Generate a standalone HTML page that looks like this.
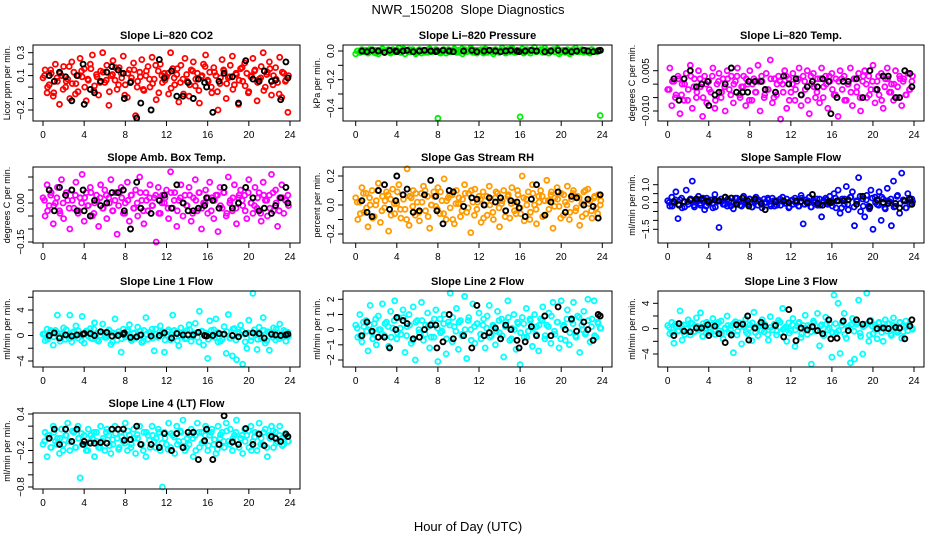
<!DOCTYPE html>
<html><head><meta charset="utf-8"><style>
body{margin:0;background:#fff}
svg{display:block;font-family:"Liberation Sans",sans-serif}
</style></head><body>
<svg id="c" width="936" height="540" viewBox="0 0 936 540">
<text x="468" y="14" text-anchor="middle" font-size="13" style="white-space:pre">NWR_150208  Slope Diagnostics</text>
<text x="468" y="531" text-anchor="middle" font-size="13">Hour of Day (UTC)</text>
</svg>
<script>
const hoursC=[0,0.2,0.4,0.6,0.8,1,1.2,1.4,1.6,1.8,2,2.2,2.4,2.6,2.8,3,3.2,3.4,3.6,3.8,4,4.2,4.4,4.6,4.8,5,5.2,5.4,5.6,5.8,6,6.2,6.4,6.6,6.8,7,7.2,7.4,7.6,7.8,8,8.2,8.4,8.6,8.8,9,9.2,9.4,9.6,9.8,10,10.2,10.4,10.6,10.8,11,11.2,11.4,11.6,11.8,12,12.2,12.4,12.6,12.8,13,13.2,13.4,13.6,13.8,14,14.2,14.4,14.6,14.8,15,15.2,15.4,15.6,15.8,16,16.2,16.4,16.6,16.8,17,17.2,17.4,17.6,17.8,18,18.2,18.4,18.6,18.8,19,19.2,19.4,19.6,19.8,20,20.2,20.4,20.6,20.8,21,21.2,21.4,21.6,21.8,22,22.2,22.4,22.6,22.8,23,23.2,23.4,23.6,23.8];
const hoursD=[0.15,0.45,0.75,1.05,1.35,1.65,1.95,2.25,2.55,2.85,3.15,3.45,3.75,4.05,4.35,4.65,4.95,5.25,5.55,5.85,6.15,6.45,6.75,7.05,7.35,7.65,7.95,8.25,8.55,8.85,9.15,9.45,9.75,10.05,10.35,10.65,10.95,11.25,11.55,11.85,12.15,12.45,12.75,13.05,13.35,13.65,13.95,14.25,14.55,14.85,15.15,15.45,15.75,16.05,16.35,16.65,16.95,17.25,17.55,17.85,18.15,18.45,18.75,19.05,19.35,19.65,19.95,20.25,20.55,20.85,21.15,21.45,21.75,22.05,22.35,22.65,22.95,23.25,23.55,23.85];
const hoursK=[0.6,1.1,1.6,2.2,2.8,3.3,3.9,4.0,4.6,5.0,5.6,6.2,6.7,7.3,7.8,7.9,8.5,9.1,9.5,10.5,11.3,11.8,12.5,13,13.6,14.1,14.6,15.1,15.7,15.9,16.5,17.1,17.6,18.4,19,19.7,20.4,21.0,21.5,22.2,22.6,23.1,23.6,23.8];
const xTicks=[0,4,8,12,16,20,24];

const co2Vals=[0.08,0.15,-0.05,0.02,0.12,-0.08,0.2,0.05,-0.15,0.1,0.18,0.0,0.07,-0.1,0.22,0.13,0.03,-0.04,0.25,0.09,
0.16,-0.12,0.06,0.2,0.28,0.01,0.11,-0.07,0.14,0.3,0.04,0.19,-0.16,0.1,0.23,0.06,-0.02,0.17,0.12,0.27,
0.02,-0.09,0.15,0.08,0.21,-0.25,0.05,0.13,0.24,-0.03,0.1,0.18,0.0,0.26,0.07,-0.11,0.14,0.2,0.04,0.12,
0.09,-0.06,0.3,0.16,0.02,0.11,-0.13,0.19,0.07,0.25,0.05,-0.08,0.15,0.22,0.01,0.12,-0.14,0.09,0.2,0.28,
0.06,0.13,-0.05,0.17,0.1,-0.2,0.03,0.24,0.14,-0.1,0.08,0.19,0.27,0.02,0.11,-0.15,0.16,0.05,0.21,0.12,
-0.04,0.09,0.25,0.15,-0.12,0.07,0.18,0.3,0.0,0.13,0.22,-0.07,0.1,0.17,0.04,0.26,-0.09,0.12,0.06,-0.22];
const co2Core=[0.1,0.0,0.15,-0.05,0.08,0.12,-0.02,0.05,0.18,0.03,-0.06,0.1,0.14,0.0,0.07,0.16,-0.03,0.09,0.04,0.13,
0.06,-0.04,0.11,0.17,0.02,0.08,-0.07,0.12,0.05,0.15,0.0,0.09,-0.02,0.14,0.07,0.03,0.19,-0.05,0.1,0.06,
0.12,-0.01,0.08,0.16,0.04,-0.06,0.11,0.02,0.14,0.07,-0.03,0.1,0.18,0.05,0.0,0.13,-0.04,0.08,0.15,0.03,
0.09,-0.02,0.12,0.06,0.17,0.01,-0.05,0.1,0.14,0.04,0.08,-0.03,0.11,0.16,0.02,0.07,-0.06,0.13,0.05,0.1];
const co2Black=[0.1,0.05,0.13,0.09,-0.12,0.1,0.2,-0.15,-0.02,-0.05,0.05,0.13,0.18,0.15,0.12,-0.1,0.04,-0.27,-0.14,-0.2,0.24,0.08,0.14,-0.08,-0.08,0.04,-0.1,0.07,0.04,0.0,-0.22,0.05,0.12,0.09,-0.14,0.23,0.07,0.05,0.14,0.05,0.06,-0.11,0.22,0.08];

const presVals=[-0.02,0.0,-0.01,0.01,-0.005,0.005,-0.015,0.0,0.01,-0.01,
0.005,-0.02,0.0,0.015,-0.01,0.0,0.005,-0.015,0.01,-0.005,
0.0,0.02,-0.01,0.005,-0.02,0.0,0.01,-0.005,0.005,-0.01,
0.0,0.01,-0.015,0.005,0.0,-0.01,0.015,-0.005,0.0,0.01,
-0.47,0.0,-0.01,0.005,-0.015,0.01,0.0,-0.005,0.015,-0.01,
0.005,0.0,-0.02,0.01,-0.005,0.0,0.02,-0.01,0.005,-0.015,
0.0,0.01,-0.005,0.015,-0.01,0.0,0.005,-0.02,0.01,0.0,
-0.01,0.005,0.0,-0.015,0.01,-0.005,0.02,0.0,-0.01,0.005,
-0.46,0.015,-0.01,0.0,0.005,-0.015,0.01,0.025,-0.005,0.0,
0.01,-0.01,0.02,0.005,-0.015,0.0,0.01,-0.005,0.015,-0.02,
0.0,0.005,-0.01,0.01,0.0,-0.015,0.005,0.02,-0.005,0.0,
0.01,-0.01,0.005,0.0,-0.015,0.01,0.0,-0.005,0.005,-0.45];
const presCore=[0.0,-0.01,0.005,-0.005,0.01,0.0,-0.015,0.005,0.0,-0.01,0.01,-0.005,0.0,0.005,-0.01,0.015,0.0,-0.005,0.01,-0.02,
0.005,0.0,-0.01,0.01,-0.005,0.0,0.005,-0.015,0.01,0.0,-0.005,0.005,0.0,-0.01,0.015,-0.005,0.0,0.01,-0.01,0.005,
0.0,-0.015,0.01,0.0,-0.005,0.005,-0.01,0.02,0.0,-0.005,0.01,-0.01,0.005,0.0,-0.015,0.01,0.0,0.005,-0.005,0.0,
0.01,-0.01,0.0,0.005,-0.005,0.015,-0.01,0.0,0.005,-0.02,0.01,0.0,-0.005,0.005,0.0,-0.01,0.01,-0.005,0.0,0.005];
const presBlack=[0.0,-0.005,0.005,0.0,-0.01,0.005,0.0,-0.005,0.0,0.005,-0.005,0.0,0.005,0.0,-0.005,0.0,0.005,0.0,-0.005,0.0,0.005,-0.005,0.0,0.005,0.0,-0.005,0.0,0.005,0.0,-0.005,0.0,0.005,0.0,-0.005,0.0,0.005,0.0,-0.005,0.0,0.005,0.0,-0.005,0.0,0.005];

const tempVals=[-0.002,0.006,-0.008,0.001,-0.004,0.003,-0.011,0.0,-0.006,0.004,-0.002,0.007,-0.009,0.002,-0.005,0.005,-0.001,-0.012,0.003,-0.007,
0.001,-0.003,0.006,-0.009,0.0,0.004,-0.005,0.002,-0.01,0.005,-0.002,0.003,-0.007,0.001,0.006,-0.004,-0.001,0.003,-0.008,0.0,
0.005,-0.006,0.002,-0.003,0.007,-0.01,0.001,-0.005,0.004,-0.002,0.009,-0.007,0.002,-0.004,0.003,-0.013,0.0,0.005,-0.009,0.002,
-0.003,0.004,-0.006,0.001,0.006,-0.008,0.003,-0.002,0.005,-0.011,0.0,0.004,-0.005,0.002,-0.007,0.006,-0.001,0.003,-0.009,0.001,
0.004,-0.004,0.002,-0.012,0.005,-0.002,0.003,-0.006,0.0,0.006,-0.008,0.002,-0.003,0.004,-0.01,0.001,0.005,-0.005,0.003,-0.002,
0.007,-0.007,0.001,-0.004,0.004,-0.009,0.002,0.006,-0.003,0.0,-0.006,0.005,-0.001,0.003,-0.008,0.002,-0.004,0.004,-0.002,0.001];
const tempCore=[-0.002,0.001,-0.005,0.002,-0.004,0.0,-0.006,0.003,-0.001,-0.003,0.002,-0.005,0.0,-0.002,0.003,-0.006,0.001,-0.003,-0.001,0.002,
-0.004,0.0,0.003,-0.005,-0.001,0.002,-0.006,0.0,-0.003,0.001,0.003,-0.004,-0.002,0.002,-0.005,0.0,0.001,-0.003,0.003,-0.006,
0.0,-0.002,0.002,-0.004,0.001,-0.006,0.003,-0.001,-0.003,0.002,-0.005,0.0,0.003,-0.002,-0.004,0.001,0.002,-0.006,0.0,-0.003,
0.002,-0.001,-0.005,0.003,0.0,-0.004,0.001,-0.002,0.003,-0.006,-0.001,0.002,-0.003,0.0,-0.005,0.002,0.001,-0.004,-0.002,0.003];
const tempBlack=[0.002,-0.006,0.002,0.005,-0.001,0.0,0.001,-0.008,-0.004,-0.003,0.0,0.006,-0.003,-0.003,-0.003,0.001,0.001,0.001,-0.002,-0.003,0.003,0.0,0.002,-0.004,-0.001,0.001,-0.001,0.002,0.001,-0.011,-0.005,0.001,0.001,0.002,-0.005,0.005,-0.002,0.003,0.003,-0.005,-0.005,0.005,0.004,-0.001];

const ambVals=[0.02,-0.05,0.07,-0.01,0.04,-0.08,0.0,0.06,-0.03,0.09,-0.06,0.03,0.01,-0.1,0.05,-0.02,0.08,-0.04,0.02,0.11,
-0.07,0.04,-0.01,0.06,-0.05,0.0,0.03,-0.09,0.07,-0.02,0.05,-0.06,0.02,0.09,-0.03,0.01,-0.12,0.04,0.06,-0.04,
0.0,0.08,-0.07,0.03,-0.02,0.05,-0.05,0.1,0.01,-0.08,0.04,-0.03,0.07,-0.01,0.02,-0.15,0.06,-0.04,0.03,0.0,
0.05,-0.06,0.12,-0.02,0.04,-0.09,0.01,0.07,-0.05,0.03,-0.01,0.06,-0.07,0.02,0.09,-0.03,0.04,-0.1,0.0,0.05,
-0.04,0.08,0.02,-0.06,0.03,-0.11,0.06,-0.02,0.04,-0.05,0.1,0.01,-0.03,0.07,-0.08,0.02,0.05,-0.01,0.03,-0.06,
0.09,0.0,-0.04,0.06,-0.02,0.04,-0.07,0.08,0.01,-0.05,0.03,0.11,-0.03,0.05,-0.09,0.02,0.07,-0.04,0.01,0.03];
const ambCore=[0.01,-0.03,0.03,-0.01,0.02,-0.04,0.0,0.04,-0.02,0.01,0.03,-0.03,0.0,0.02,-0.01,0.04,-0.04,0.01,0.02,-0.02,
0.03,0.0,-0.03,0.04,-0.01,0.02,-0.04,0.01,0.03,-0.02,0.0,0.04,-0.03,0.01,0.02,-0.01,0.03,-0.04,0.0,0.02,
-0.02,0.04,0.01,-0.03,0.02,0.0,-0.01,0.03,-0.04,0.01,0.04,-0.02,0.0,0.02,-0.03,0.01,0.03,-0.01,0.04,-0.04,
0.0,0.02,-0.02,0.03,0.01,-0.03,0.04,0.0,-0.01,0.02,-0.04,0.03,0.01,-0.02,0.04,0.0,-0.03,0.02,0.01,-0.01];
const ambBlack=[0.05,-0.03,0.06,0.03,0.05,-0.03,0.05,-0.03,-0.05,0.01,-0.01,0.0,0.04,0.04,0.05,-0.03,-0.1,0.08,-0.02,-0.04,0.01,0.03,-0.02,0.07,0.0,-0.03,-0.03,-0.02,-0.01,0.02,0.01,-0.02,0.06,-0.02,0.0,0.06,0.02,-0.03,-0.02,-0.04,-0.01,0.02,0.06,0.0];

const rhVals=[0.05,-0.1,0.02,0.12,-0.05,0.08,-0.15,0.0,0.1,-0.08,0.03,0.15,-0.12,0.06,-0.02,0.09,-0.18,0.04,0.11,-0.06,
0.01,0.14,-0.09,0.07,-0.03,0.25,-0.14,0.05,0.1,-0.07,0.02,-0.11,0.08,0.13,-0.04,0.06,-0.16,0.0,0.09,-0.01,
0.12,-0.06,0.03,0.18,-0.1,0.05,-0.02,0.07,-0.13,0.1,0.01,-0.08,0.04,0.14,-0.05,0.08,-0.19,0.02,0.11,-0.03,
0.06,-0.12,0.09,0.0,-0.07,0.13,0.03,-0.1,0.05,0.08,-0.15,0.01,0.1,-0.04,0.06,-0.09,0.12,0.02,-0.06,0.07,
-0.02,0.2,-0.11,0.04,0.09,-0.05,0.14,0.0,-0.13,0.06,0.1,-0.08,0.03,0.17,-0.03,0.07,-0.16,0.05,0.12,-0.01,
0.08,-0.07,0.02,0.13,-0.1,0.04,0.1,-0.04,0.06,-0.14,0.01,0.09,-0.06,0.11,0.03,-0.09,0.05,-0.02,0.07,0.0];
const rhCore=[0.02,-0.06,0.08,-0.02,0.05,-0.09,0.0,0.1,-0.04,0.03,0.07,-0.07,0.01,0.09,-0.03,0.04,-0.1,0.06,-0.01,0.08,
-0.05,0.02,0.1,-0.08,0.0,0.06,-0.03,0.09,-0.06,0.03,0.07,-0.1,0.01,0.05,-0.04,0.08,-0.02,0.1,-0.07,0.02,
0.04,-0.09,0.06,0.0,-0.05,0.09,-0.02,0.03,-0.08,0.07,0.01,-0.04,0.1,-0.06,0.05,0.0,-0.1,0.08,-0.03,0.02,
0.06,-0.07,0.03,0.09,-0.01,0.04,-0.09,0.07,0.0,-0.05,0.08,-0.02,0.05,-0.08,0.1,0.01,-0.04,0.06,-0.06,0.03];
const rhBlack=[0.03,-0.05,-0.08,0.1,0.14,-0.03,0.03,0.2,0.07,0.11,-0.05,-0.04,0.07,0.17,0.06,-0.04,-0.13,0.1,0.09,-0.01,0.05,0.04,0.0,0.05,0.02,0.05,-0.04,0.03,0.02,-0.02,-0.08,0.04,0.14,-0.07,0.02,0.09,-0.05,0.06,0.05,0.0,0.04,-0.01,-0.09,0.07];

const sampVals=[0.1,-0.2,0.3,-0.05,0.6,-0.9,0.15,-0.3,0.05,0.7,-0.1,0.2,1.2,-0.25,0.0,0.35,-0.15,0.1,-0.4,0.25,
-0.05,0.15,-0.3,0.45,0.05,-1.4,0.2,-0.1,0.3,-0.2,0.1,0.0,-0.35,0.25,-0.05,0.15,-0.2,0.35,0.05,-0.1,
0.2,-0.25,0.1,0.3,-0.15,0.05,-0.3,0.2,0.0,0.15,-0.1,0.25,-0.2,0.1,0.05,-0.15,0.3,-0.05,0.2,-0.3,
0.1,-0.1,0.25,0.0,-0.2,0.4,-1.2,0.15,-0.05,0.3,-0.25,0.1,0.05,-0.15,0.2,-0.8,0.1,0.25,-0.1,0.35,
0.0,0.5,-0.3,0.7,-0.6,0.2,-0.1,0.9,-0.4,0.3,0.6,-1.3,0.1,1.4,-0.5,0.2,-0.8,0.4,-0.2,0.7,
-1.5,0.3,-0.1,0.6,-1.0,0.2,-0.35,0.8,0.05,-1.3,1.2,-0.2,0.4,-0.6,1.65,0.1,-0.3,0.5,-0.1,0.2];
const sampCore=[0.0,-0.2,0.15,-0.1,0.25,-0.25,0.05,0.2,-0.15,0.1,-0.05,0.25,-0.2,0.0,0.15,-0.25,0.1,0.05,-0.1,0.2,
-0.2,0.0,0.25,-0.15,0.1,-0.05,0.2,-0.25,0.05,0.15,-0.1,0.0,0.25,-0.2,0.1,-0.15,0.2,0.05,-0.05,-0.25,
0.15,0.0,-0.2,0.25,-0.1,0.1,-0.25,0.05,0.2,-0.15,0.0,0.15,-0.05,-0.2,0.25,0.1,-0.3,0.2,-0.1,0.3,
-0.25,0.05,0.35,-0.2,0.15,-0.35,0.25,0.0,-0.15,0.3,-0.3,0.1,0.2,-0.25,0.35,-0.05,0.15,-0.3,0.25,0.05];
const sampBlack=[0.05,-0.15,0.05,0.15,0.2,0.2,0.1,0.05,0.15,0.1,0.3,0.25,-0.1,0.25,0.1,-0.2,0.2,-0.05,-0.4,0.05,0.1,0.0,0.1,0.05,0.0,0.45,-0.05,-0.15,0.05,0.0,0.1,0.1,0.15,-0.1,0.35,-0.25,0.15,0.0,-0.05,-0.05,-0.3,0.1,0.2,-0.1];

const l1Vals=[0.2,-0.8,1.0,-0.3,0.5,-1.5,0.8,3.2,-0.2,0.3,1.2,-0.6,0.0,3.2,-1.0,0.6,1.5,-0.4,0.2,3.0,
-1.2,0.7,-0.1,1.1,-0.5,2.0,0.3,-0.9,0.5,1.8,-0.3,0.1,0.9,-1.4,0.4,2.6,-0.7,0.2,-2.6,1.0,
-0.2,0.6,1.7,-0.8,0.3,-0.4,1.3,0.0,-1.1,0.8,2.8,-0.6,0.4,1.0,-2.4,0.2,-0.3,1.5,0.6,-2.6,
0.1,0.9,-0.7,3.2,-0.2,0.5,-1.6,1.2,0.3,-0.5,0.8,1.7,-0.9,0.2,1.9,-0.3,3.8,0.6,-1.5,0.4,
-3.6,2.3,-0.2,0.9,2.6,-1.0,0.3,-0.6,1.4,-2.8,3.3,-0.4,-3.2,1.1,-3.8,0.5,1.6,-4.5,0.2,-2.0,
2.4,-0.8,6.6,0.3,-2.2,1.3,-0.5,2.8,-1.2,0.6,-2.3,0.1,1.2,-0.7,0.4,1.8,-0.3,0.8,-0.9,0.5];
const l1Core=[0.3,-0.6,0.8,-0.2,0.5,-0.9,0.1,0.9,-0.5,0.4,-0.1,0.7,-0.8,0.2,0.6,-0.4,1.0,-0.7,0.0,0.5,
-0.3,0.8,-1.0,0.3,0.6,-0.5,0.1,0.9,-0.6,0.4,-0.2,0.7,-0.9,0.2,0.5,-0.4,1.0,-0.1,0.3,-0.7,
0.6,-0.3,0.8,-0.8,0.0,0.5,-0.5,0.9,-0.2,0.4,-1.0,0.7,0.1,-0.6,0.8,-0.3,0.5,-0.9,0.2,0.6,
-0.4,1.0,-0.7,0.3,0.7,-1.0,0.4,-0.2,0.9,-0.6,0.1,0.8,-0.8,0.5,-0.3,1.0,-0.5,0.3,0.6,-0.1];
const l1Black=[0.0,0.4,-0.4,0.1,-0.1,0.1,0.2,0.3,0.3,0.0,0.6,0.5,-0.1,0.0,0.2,0.4,-0.3,-0.2,0.1,-0.1,0.0,0.4,-0.4,0.3,0.1,0.1,0.1,0.5,0.0,-0.1,0.0,0.3,0.2,0.0,-0.2,0.3,0.4,0.3,-0.4,0.2,0.1,0.0,0.1,0.2];

const l2Vals=[0.3,-0.5,1.0,-0.8,0.2,0.6,-1.4,1.6,-0.2,0.4,-1.0,0.9,0.0,1.7,-0.4,0.5,-1.1,1.2,0.1,1.9,
-0.6,0.8,-0.3,1.3,-1.5,0.2,1.0,-0.9,1.5,-2.0,0.6,-0.2,1.8,-0.7,0.3,1.1,-1.2,0.4,-0.5,1.3,
-2.1,0.7,-0.1,1.0,-1.6,0.5,2.4,-0.8,0.2,1.4,-1.3,0.6,-0.3,2.2,-1.9,0.8,0.0,1.7,-0.9,0.4,
1.1,-0.6,0.3,-1.2,0.9,1.6,-0.4,0.2,-1.0,1.2,-0.2,0.7,-1.8,0.5,1.9,-0.7,0.1,1.0,-1.3,0.4,
-2.3,0.8,-0.5,1.4,-0.1,0.6,-1.1,1.0,0.2,-1.4,0.7,1.5,-0.6,0.3,1.1,-0.9,1.8,-0.3,0.5,-1.2,
1.9,0.2,-0.7,1.3,-1.0,0.6,1.8,-0.4,0.9,-1.5,0.3,1.2,-0.2,2.0,-0.8,0.7,1.9,-0.5,0.4,0.1];
const l2Core=[0.1,-0.4,0.5,-0.1,0.3,-0.6,0.7,0.0,-0.3,0.4,0.2,-0.5,0.6,-0.2,0.1,0.8,-0.4,0.3,-0.7,0.5,
0.0,0.6,-0.3,0.2,-0.5,0.7,0.1,-0.2,0.4,-0.6,0.3,0.8,-0.1,0.5,-0.4,0.0,0.6,-0.7,0.2,0.4,
-0.3,0.7,0.1,-0.5,0.3,-0.1,0.6,-0.4,0.2,0.8,-0.6,0.0,0.5,-0.2,0.4,-0.5,0.7,0.1,-0.3,0.3,
0.6,-0.4,0.2,0.9,-0.1,0.5,-0.6,0.3,0.7,-0.2,0.4,-0.5,0.8,0.0,-0.3,0.6,0.2,-0.4,0.5,0.1];
const l2Black=[-0.4,0.5,-0.1,-0.5,-0.5,-1.2,0.0,0.8,0.6,0.4,-0.6,-0.5,0.0,0.3,0.3,-1.2,-0.8,1.0,-0.6,-0.4,-1.2,1.6,-0.4,-0.2,0.1,-0.6,0.3,0.0,-0.7,-1.2,-0.8,0.2,-0.4,0.9,-0.4,1.5,0.0,0.7,-0.1,0.5,0.0,-0.7,1.0,0.9];

const l3Vals=[0.5,-0.8,1.0,-2.3,0.3,-0.4,2.8,-1.8,0.6,0.0,1.4,-1.0,0.8,-0.5,1.7,-0.2,2.5,-1.2,0.4,1.0,
-0.6,0.2,1.6,-0.9,0.7,-0.3,1.2,-1.6,0.1,2.0,-0.7,0.5,-3.8,1.1,-0.4,0.9,-2.4,0.3,1.5,-0.8,
0.6,-1.9,2.6,0.0,-1.1,0.8,1.4,-0.5,0.2,-1.8,1.9,-0.2,0.7,-1.0,1.3,-0.6,3.2,0.1,-2.0,0.9,
-0.3,1.6,-2.8,0.4,1.0,-1.4,0.5,2.1,-0.9,0.2,-5.6,1.2,-0.4,2.4,-2.7,0.6,-1.1,1.8,-0.2,0.8,
-4.5,5.3,-0.6,4.0,-3.9,1.0,2.4,-1.5,0.3,-5.4,1.6,-4.8,0.7,4.5,-1.2,-4.0,0.5,5.6,-2.0,1.3,
-0.8,0.6,-1.6,1.0,0.2,-2.0,1.4,-0.4,0.8,-1.1,1.7,0.0,-0.6,1.0,-1.5,0.4,1.2,-0.3,0.6,0.1];
const l3Core=[0.2,-0.6,0.7,-0.3,0.5,-0.9,0.1,0.9,-0.5,0.4,-0.1,0.8,-0.7,0.2,0.6,-0.4,1.0,-0.8,0.0,0.5,
-0.2,0.8,-1.0,0.3,0.6,-0.5,0.1,0.9,-0.6,0.4,-0.3,0.7,-0.9,0.2,0.5,-0.4,1.0,-0.1,0.3,-0.7,
0.6,-0.2,0.8,-0.8,0.0,0.5,-0.5,0.9,-0.3,0.4,-1.0,0.7,0.1,-0.6,0.8,-0.3,0.5,-0.9,0.2,0.6,
-0.4,1.0,-0.7,0.3,0.7,-1.0,0.4,-0.2,0.9,-0.6,0.1,0.8,-0.8,0.5,-0.3,1.0,-0.5,0.3,0.6,-0.1];
const l3Black=[-1.1,0.8,-0.4,-0.5,0.1,0.1,0.6,-1.1,0.4,-0.8,-2.2,-1.0,0.6,0.7,2.0,-1.8,0.1,1.0,0.4,0.5,-1.3,3.0,-1.9,0.1,-0.2,0.3,-0.3,-0.8,1.4,-1.6,-1.5,1.2,-0.3,1.4,0.7,1.2,0.0,0.1,0.0,0.2,0.1,-1.6,0.4,1.4];

const l4Vals=[-0.1,0.1,-0.3,0.05,-0.15,0.2,-0.05,0.0,-0.25,0.15,-0.1,0.05,0.25,-0.2,-0.05,0.1,-0.15,0.2,-0.65,-0.1,
0.05,-0.2,0.15,-0.05,0.0,-0.3,0.1,-0.15,0.2,-0.05,-0.2,0.15,0.05,-0.25,-0.1,0.2,0.0,-0.15,0.1,-0.05,
0.25,-0.2,0.05,-0.1,0.15,-0.25,0.0,0.2,-0.1,0.1,-0.3,0.05,-0.15,0.2,-0.05,0.0,0.15,-0.2,-0.8,0.1,
-0.1,0.25,-0.15,0.05,-0.25,0.2,-0.05,0.1,0.3,-0.2,0.0,-0.1,0.15,-0.3,0.05,0.25,-0.15,0.1,-0.05,0.2,
-0.2,0.05,0.15,-0.1,-0.25,0.2,0.0,0.1,-0.15,0.25,-0.05,0.15,-0.2,0.05,0.3,-0.1,0.0,-0.25,0.15,0.05,
-0.15,0.2,-0.05,0.1,-0.2,0.25,0.0,-0.1,0.15,-0.3,0.05,0.2,-0.15,0.1,-0.05,0.2,0.0,-0.1,0.05,-0.05];
const l4Core=[-0.05,0.05,-0.15,0.1,-0.1,0.0,-0.2,0.05,-0.05,0.12,-0.15,0.0,0.08,-0.1,-0.2,0.05,0.1,-0.05,-0.15,0.0,
0.1,-0.12,-0.02,0.08,-0.18,0.03,-0.08,0.12,-0.15,0.0,0.06,-0.1,-0.2,0.1,-0.03,0.05,-0.15,0.1,-0.08,0.0,
-0.18,0.08,0.02,-0.1,0.12,-0.05,-0.15,0.05,0.0,-0.2,0.1,-0.08,0.05,-0.12,0.1,-0.02,-0.18,0.06,-0.05,0.12,
-0.1,0.0,0.1,-0.15,0.05,-0.05,0.12,-0.2,0.02,0.08,-0.1,0.1,-0.15,0.0,0.12,-0.08,0.05,-0.12,0.08,-0.05];
const l4Black=[0.0,0.15,-0.1,0.15,-0.05,0.15,-0.1,-0.05,-0.08,-0.08,-0.07,-0.08,0.15,0.15,0.15,-0.03,-0.02,0.2,-0.1,-0.1,-0.15,0.08,-0.2,0.08,-0.15,0.1,0.1,-0.35,-0.04,0.15,-0.35,-0.1,0.37,-0.06,-0.1,0.16,-0.1,0.07,-0.12,0.03,0.0,-0.05,0.07,0.03];

const COLS=[{l:33,r:300,x0:43,x24:290},{l:343,r:612,x0:355.7,x24:602.3},{l:658,r:924,x0:667.7,x24:914}];
const ROWS=[{t:45,b:121},{t:167,b:243},{t:291,b:367},{t:413,b:489}];
const panels=[
 {name:'co2',title:'Slope Li\u2013820 CO2',ylab:'Licor ppm per min.',c:0,r:0,col:'#ff0000',vals:co2Vals,core:co2Core,black:co2Black,a:[0.3,52.7],b:[-0.2,110],ticks:[-0.2,-0.1,0,0.1,0.2,0.3],labs:['0.3','0.1','\u22120.2'],labv:[0.3,0.1,-0.2]},
 {name:'pressure',title:'Slope Li\u2013820 Pressure',ylab:'kPa per min.',c:1,r:0,col:'#00ee00',vals:presVals,core:presCore,black:presBlack,a:[0,51],b:[-0.4,108.3],ticks:[0,-0.1,-0.2,-0.3,-0.4],labs:['0.0','\u22120.2','\u22120.4'],labv:[0,-0.2,-0.4]},
 {name:'li820-temp',title:'Slope Li\u2013820 Temp.',ylab:'degrees C per min.',c:2,r:0,col:'#ff00ff',vals:tempVals,core:tempCore,black:tempBlack,a:[0.005,70.7],b:[-0.01,111],ticks:[0.005,0,-0.005,-0.01],labs:['0.005','\u22120.010'],labv:[0.005,-0.01]},
 {name:'amb-box-temp',title:'Slope Amb. Box Temp.',ylab:'degrees C per min.',c:0,r:1,col:'#ff00ff',vals:ambVals,core:ambCore,black:ambBlack,a:[0,203],b:[-0.15,242],ticks:[0.1,0.05,0,-0.05,-0.1,-0.15],labs:['0.00','\u22120.15'],labv:[0,-0.15]},
 {name:'gas-stream-rh',title:'Slope Gas Stream RH',ylab:'percent per min.',c:1,r:1,col:'#ff9a00',vals:rhVals,core:rhCore,black:rhBlack,a:[0.2,176],b:[-0.2,234],ticks:[0.2,0.1,0,-0.1,-0.2],labs:['0.2','0.0','\u22120.2'],labv:[0.2,0,-0.2]},
 {name:'sample-flow',title:'Slope Sample Flow',ylab:'ml/min per min.',c:2,r:1,col:'#0000ff',vals:sampVals,core:sampCore,black:sampBlack,a:[1.0,184.7],b:[-1.5,229.3],ticks:[1,0.5,0,-0.5,-1,-1.5],labs:['1.0','0.0','\u22121.5'],labv:[1,0,-1.5]},
 {name:'line1-flow',title:'Slope Line 1 Flow',ylab:'ml/min per min.',c:0,r:2,col:'#00ffff',vals:l1Vals,core:l1Core,black:l1Black,a:[4,310],b:[-4,361],ticks:[6,4,2,0,-2,-4],labs:['4','0','\u22124'],labv:[4,0,-4]},
 {name:'line2-flow',title:'Slope Line 2 Flow',ylab:'ml/min per min.',c:1,r:2,col:'#00ffff',vals:l2Vals,core:l2Core,black:l2Black,a:[2,299.3],b:[-2,360],ticks:[2,1,0,-1,-2],labs:['2','1','0','\u22121','\u22122'],labv:[2,1,0,-1,-2]},
 {name:'line3-flow',title:'Slope Line 3 Flow',ylab:'ml/min per min.',c:2,r:2,col:'#00ffff',vals:l3Vals,core:l3Core,black:l3Black,a:[4,303.3],b:[-4,354],ticks:[4,2,0,-2,-4],labs:['4','0','\u22124'],labv:[4,0,-4]},
 {name:'line4-flow',title:'Slope Line 4 (LT) Flow',ylab:'ml/min per min.',c:0,r:3,col:'#00ffff',vals:l4Vals,core:l4Core,black:l4Black,a:[0.4,414],b:[-0.8,487],ticks:[0.4,0.2,0,-0.2,-0.4,-0.6,-0.8],labs:['0.4','\u22120.2','\u22120.8'],labv:[0.4,-0.2,-0.8]}
];
const NS='http://www.w3.org/2000/svg';
const svg=document.getElementById('c');
function mk(tag,attrs,parent){const e=document.createElementNS(NS,tag);for(const k in attrs)e.setAttribute(k,attrs[k]);parent.appendChild(e);return e;}
panels.forEach(p=>{
 const C=COLS[p.c],R=ROWS[p.r];
 const xs=h=>C.x0+h*(C.x24-C.x0)/24;
 const ys=v=>p.a[1]+(v-p.a[0])*(p.b[1]-p.a[1])/(p.b[0]-p.a[0]);
 const g=mk('g',{},svg);
 
 
 const t=mk('text',{x:(C.l+C.r)/2,y:R.t-6,'text-anchor':'middle','font-size':11,'font-weight':'bold'},g);
 t.textContent=p.title;
 
 
 const pts=mk('g',{},g);
 function dot(h,v,color,sw,nm){
  const cy=ys(v);if(cy<R.t-2||cy>R.b+2)return;
  const pt=mk('circle',{cx:xs(h).toFixed(1),cy:cy.toFixed(1),r:2.5,fill:'none',stroke:color,'stroke-width':sw},pts);
  
  
 }
 p.core.forEach((v,i)=>{if(i<hoursD.length)dot(hoursD[i],v,p.col,1.8,p.name+'-point');});
 p.vals.forEach((v,i)=>{if(i<hoursC.length)dot(hoursC[i],v,p.col,1.8,p.name+'-point');});
 p.black.forEach((v,i)=>{if(i<hoursK.length)dot(hoursK[i],v,'#000',1.9,p.name+'-mean-point');});
 const box=mk('rect',{x:C.l,y:R.t,width:C.r-C.l,height:R.b-R.t,fill:'none',stroke:'#000','stroke-width':1},g);
 
 
 xTicks.forEach(h=>{
  const x=xs(h);
  mk('line',{x1:x,x2:x,y1:R.b,y2:R.b+5,stroke:'#000'},g);
  const tl=mk('text',{x:x,y:R.b+17,'text-anchor':'middle','font-size':10},g);
  tl.textContent=h;
  
  
 });
 p.ticks.forEach(v=>{const y=ys(v);if(y<R.t-3||y>R.b+3)return;mk('line',{x1:C.l-5,x2:C.l,y1:y,y2:y,stroke:'#000'},g);});
 p.labs.forEach((s,i)=>{
  const y=ys(p.labv[i]);const x=C.l-9;
  const tl=mk('text',{x:x,y:y,'text-anchor':'middle','font-size':10,transform:`rotate(-90 ${x} ${y})`},g);
  tl.textContent=s;
  
  
 });
 const yx=C.l-23,yy=(R.t+R.b)/2;
 const yl=mk('text',{x:yx,y:yy,'text-anchor':'middle','font-size':9,transform:`rotate(-90 ${yx} ${yy})`},g);
 yl.textContent=p.ylab;
 
 
});
</script>
</body></html>
